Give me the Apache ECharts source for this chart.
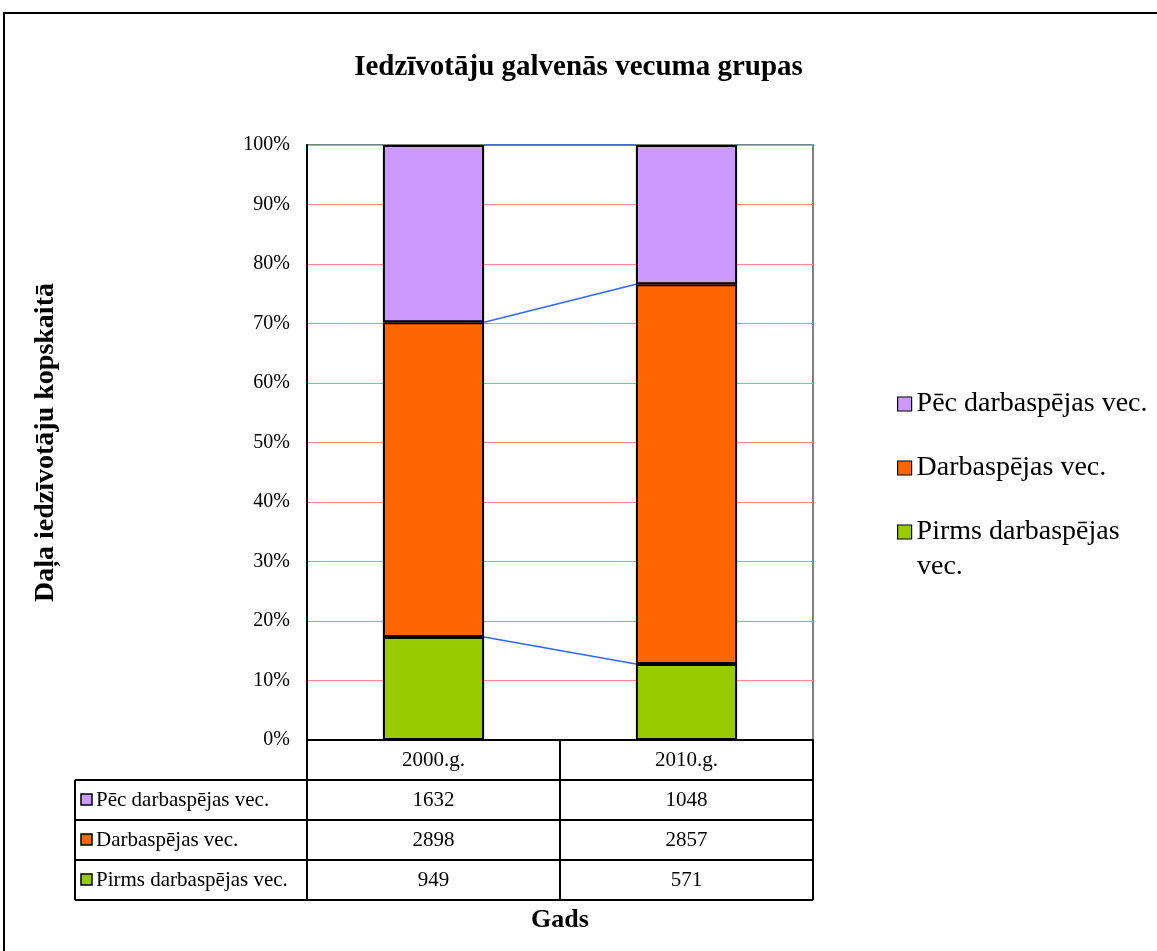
<!DOCTYPE html>
<html>
<head>
<meta charset="utf-8">
<script src="https://cdn.jsdelivr.net/npm/echarts@6/dist/echarts.min.js"></script>
<style>
  html, body { margin: 0; padding: 0; background: #fff; }
  #main { width: 1157px; height: 951px; }
</style>
</head>
<body>
<div id="main"></div>
<script>
var years = ['2000.g.', '2010.g.'];
var seriesNames = ['Pirms darbaspējas vec.', 'Darbaspējas vec.', 'Pēc darbaspējas vec.'];
var pirms = [949, 571];
var darba = [2898, 2857];
var pec = [1632, 1048];
var colors = ['#99CC00', '#FF6600', '#CC99FF'];
var yTicks = [0, 10, 20, 30, 40, 50, 60, 70, 80, 90, 100];

var FONT = '"Liberation Serif", "DejaVu Serif", serif';
var raw = [pirms, darba, pec];
var totals = years.map(function (y, i) { return pirms[i] + darba[i] + pec[i]; });
var pct = raw.map(function (arr) {
  return arr.map(function (v, i) { return v / totals[i] * 100; });
});

// cumulative tops for the series lines between bars
var cum = [];
var run = years.map(function () { return 0; });
pct.forEach(function (arr) {
  run = run.map(function (r, i) { return r + arr[i]; });
  cum.push(run.slice());
});
var seriesLineData = [];
cum.forEach(function (c) {
  for (var i = 0; i < years.length - 1; i++) {
    seriesLineData.push([i, c[i], c[i + 1]]);
  }
});

var chart = echarts.init(document.getElementById('main'));

var barSeries = seriesNames.map(function (name, k) {
  return {
    name: name,
    type: 'bar',
    stack: 'total',
    barWidth: '40%',
    data: pct[k],
    itemStyle: { color: colors[k], borderColor: '#000', borderWidth: 2 },
    emphasis: { disabled: true }
  };
});

barSeries.push({
  type: 'custom',
  name: 'seriesLines',
  data: seriesLineData,
  z: 1,
  renderItem: function (params, api) {
    var half = api.size([1, 0])[0] * 0.2;
    var p0 = api.coord([api.value(0), api.value(1)]);
    var p1 = api.coord([api.value(0) + 1, api.value(2)]);
    return {
      type: 'line',
      shape: { x1: p0[0] + half, y1: p0[1], x2: p1[0] - half, y2: p1[1] },
      style: { stroke: '#3366FF', lineWidth: 1.5 }
    };
  }
});

chart.setOption({
  backgroundColor: '#fff',
  animation: false,
  title: {
    text: 'Iedzīvotāju galvenās vecuma grupas',
    left: 'center',
    top: 48,
    textStyle: { fontFamily: FONT, fontSize: 29, fontWeight: 'bold', color: '#000' }
  },
  legend: {
    data: seriesNames.slice().reverse(),
    orient: 'vertical',
    left: 892,
    top: 383,
    itemGap: 32,
    icon: 'rect',
    itemWidth: 14,
    itemHeight: 14,
    itemStyle: { borderColor: '#000', borderWidth: 1.2 },
    formatter: function (name) {
      // second line of the last entry is drawn below as a separate text
      return name === 'Pirms darbaspējas vec.' ? 'Pirms darbaspējas' : name;
    },
    textStyle: { fontFamily: FONT, fontSize: 28, color: '#000', lineHeight: 32 }
  },
  grid: {
    left: 307, right: 344, top: 145, bottom: 211,
    show: true, borderColor: '#808080', borderWidth: 2
  },
  xAxis: {
    type: 'category',
    data: years,
    axisLine: { lineStyle: { color: '#000', width: 2 } },
    axisTick: { show: false },
    axisLabel: { show: false }
  },
  yAxis: {
    type: 'value',
    min: 0,
    max: 100,
    interval: 10,
    axisLine: { show: true, lineStyle: { color: '#000', width: 2 } },
    axisTick: { show: false },
    axisLabel: {
      formatter: function (v) { return yTicks.indexOf(v) >= 0 ? v + '%' : ''; },
      fontFamily: FONT, fontSize: 20, color: '#000', margin: 17
    },
    splitLine: { lineStyle: { color: '#F08C8C', type: 'solid', width: 1 } },
    name: 'Daļa iedzīvotāju kopskaitā',
    nameLocation: 'middle',
    nameGap: 247,
    nameRotate: 90,
    nameTextStyle: { fontFamily: FONT, fontSize: 28, fontWeight: 'bold', color: '#000' }
  },
  series: barSeries
});

// data table under the plot, positioned from the category axis
var centers = years.map(function (y, i) { return chart.convertToPixel({ xAxisIndex: 0 }, i); });
var band = years.length > 1 ? centers[1] - centers[0] : 506;
var colX = [centers[0] - band / 2];
centers.forEach(function (c) { colX.push(c + band / 2); });
var tableLeft = 75;
var rowTop = chart.convertToPixel({ yAxisIndex: 0 }, 0);
var rowH = 40;
var g = [];
var lineStyle = { stroke: '#000', lineWidth: 2 };
var cellFont = '21px ' + FONT;

// outer chart border
g.push({ type: 'rect', shape: { x: 4, y: 13, width: 1200, height: 1000 }, style: { fill: null, stroke: '#000', lineWidth: 2 }, silent: true });

// wrapped second line of the last legend entry
g.push({ type: 'text', style: { text: 'vec.', x: 917, y: 567, align: 'left', verticalAlign: 'middle', font: '28px ' + FONT, fill: '#000' } });

// header row (categories)
colX.forEach(function (x) {
  g.push({ type: 'line', shape: { x1: x, y1: rowTop, x2: x, y2: rowTop + rowH * 4 }, style: lineStyle });
});
years.forEach(function (y, i) {
  g.push({ type: 'text', style: { text: y, x: centers[i], y: rowTop + rowH / 2, align: 'center', verticalAlign: 'middle', font: cellFont, fill: '#000' } });
});

// data rows, top series first
var order = [2, 1, 0];
for (var r = 0; r <= 3; r++) {
  g.push({ type: 'line', shape: { x1: tableLeft, y1: rowTop + rowH * (r + 1), x2: colX[colX.length - 1], y2: rowTop + rowH * (r + 1) }, style: lineStyle });
}
g.push({ type: 'line', shape: { x1: tableLeft, y1: rowTop + rowH, x2: tableLeft, y2: rowTop + rowH * 4 }, style: lineStyle });
order.forEach(function (k, r) {
  var cy = rowTop + rowH * (r + 1) + rowH / 2;
  g.push({ type: 'rect', shape: { x: tableLeft + 6, y: cy - 6, width: 11, height: 11 }, style: { fill: colors[k], stroke: '#000', lineWidth: 1.5 } });
  g.push({ type: 'text', style: { text: seriesNames[k], x: tableLeft + 21, y: cy, align: 'left', verticalAlign: 'middle', font: cellFont, fill: '#000' } });
  raw[k].forEach(function (v, i) {
    g.push({ type: 'text', style: { text: String(v), x: centers[i], y: cy, align: 'center', verticalAlign: 'middle', font: cellFont, fill: '#000' } });
  });
});

// x axis title
g.push({ type: 'text', style: { text: 'Gads', x: (colX[0] + colX[colX.length - 1]) / 2, y: rowTop + rowH * 4 + 20, align: 'center', verticalAlign: 'middle', font: 'bold 26px ' + FONT, fill: '#000' } });

chart.setOption({ graphic: { elements: g } });
</script>
</body>
</html>
